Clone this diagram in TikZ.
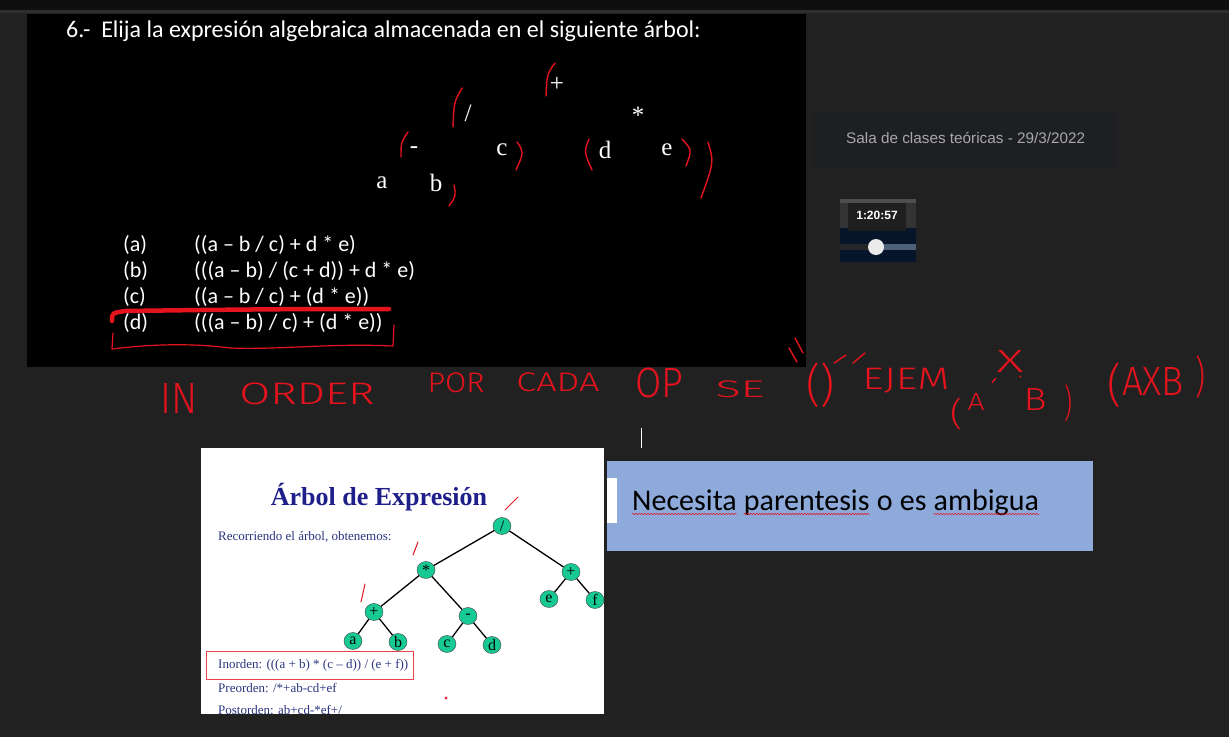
\documentclass[tikz,border=0pt]{standalone}
\usepackage{fontspec}
\usepackage{graphicx}
\setmainfont{Liberation Serif}
\newfontfamily\calfont{Carlito}
\newfontfamily\uifont{Liberation Sans}
\newfontfamily\handfont{Fira Sans Light}
\usetikzlibrary{positioning,shapes.geometric,decorations.pathmorphing}
\definecolor{pagebg}{HTML}{212121}
\definecolor{topbar}{HTML}{0F0F0F}
\definecolor{topline}{HTML}{2E2E2E}
\definecolor{salabg}{HTML}{1D1F22}
\definecolor{salatext}{HTML}{A8A8A8}
\definecolor{penred}{HTML}{E5131D}
\definecolor{titlenavy}{HTML}{1F1F8C}
\definecolor{bodynavy}{HTML}{2B3580}
\definecolor{treegreen}{HTML}{17C993}
\definecolor{boxblue}{HTML}{8EAADB}
\definecolor{thumbnavy}{HTML}{06152A}
\definecolor{thumbbar}{HTML}{4F6178}
\newcommand\fsz[1]{\fontsize{#1}{#1}\selectfont}
\newcommand\hw[3]{\resizebox*{#1pt}{#2pt}{\handfont #3}}
\tikzset{
  quiz/.style={text=white,font=\calfont\fsz{22},anchor=west,inner sep=0},
  oldtree/.style={text=white,font=\fsz{25},inner sep=0},
  pen/.style={draw=penred,line width=1.4pt,line cap=round},
  hand/.style={text=penred,inner sep=0},
  tnode/.style={ellipse,draw=black!75,fill=treegreen,minimum width=18pt,minimum height=17pt,inner sep=0,font=\fsz{16}},
  tedge/.style={line width=1.3pt},
  slidetext/.style={text=bodynavy,font=\fsz{13},anchor=west,inner sep=0},
  noteword/.style={anchor=base west,inner sep=0,font=\calfont\fsz{30}},
  squiggle/.style={draw=penred,line width=0.5pt,decorate,decoration={snake,amplitude=0.7pt,segment length=3pt}}
}
\begin{document}
\begin{tikzpicture}[x=1pt,y=-1pt]
  \useasboundingbox (0,0) rectangle (1229,737);
  \fill[pagebg] (0,0) rectangle (1229,737);
  \fill[topbar] (0,0) rectangle (1229,10);
  \fill[topline] (0,10) rectangle (1229,13);

  % black quiz slide
  \fill[black] (27,14) rectangle (806,367);
  \node[quiz,font=\calfont\fsz{24}] (qtitle) at (66,31)
    {6.-\ \ Elija la expresión algebraica almacenada en el siguiente árbol:};
  \node[oldtree] (oplus) at (557,84) {+};
  \node[oldtree] (odiv) at (468,113) {/};
  \node[oldtree] (omul) at (638,115) {*};
  \node[oldtree] (ominus) at (414,150) {-};
  \node[oldtree] (oc) at (502,150) {c};
  \node[oldtree] (od) at (605,150) {d};
  \node[oldtree] (oe) at (667,150) {e};
  \node[oldtree] (oa) at (382,183) {a};
  \node[oldtree] (ob) at (436,183) {b};
  \node[quiz] (la) at (123,245) {(a)};
  \node[quiz] (lb) at (123,271) {(b)};
  \node[quiz] (lc) at (123,297) {(c)};
  \node[quiz] (ld) at (123,323) {(d)};
  \node[quiz] (ea) at (194,245) {((a – b / c) + d * e)};
  \node[quiz] (eb) at (194,271) {(((a – b) / (c + d)) + d * e)};
  \node[quiz] (ec) at (194,297) {((a – b / c) + (d * e))};
  \node[quiz] (ed) at (194,323) {(((a – b) / c) + (d * e))};

  % pen marks on the quiz slide
  \draw[pen] (555,63) .. controls (547,74) .. (546,96);
  \draw[pen] (462,88) .. controls (454,102) .. (453,127);
  \draw[pen] (408,132) .. controls (401,142) .. (401,157);
  \draw[pen] (454,185) .. controls (456,196) .. (449,206);
  \draw[pen] (517,142) .. controls (524,152) .. (516,170);
  \draw[pen] (589,139) .. controls (584,152) .. (592,170);
  \draw[pen] (682,139) .. controls (692,150) .. (686,166);
  \draw[pen] (708,142) .. controls (714,162) .. (701,198);
  \draw[pen,line width=4.5pt] (112,321) .. controls (112,313) .. (125,311) -- (200,310) .. controls (300,309) .. (389,309);
  \draw[pen,line width=1.2pt] (113,333) -- (112,349) .. controls (160,343) and (200,344) .. (230,348)
    .. controls (280,350) and (330,343) .. (393,346) -- (394,325);
  \draw[pen] (789,348) -- (797,362);
  \draw[pen] (795,338) -- (803,353);

  % side panel
  \fill[salabg] (813,113) rectangle (1117,168);
  \node[anchor=west,inner sep=0,text=salatext,font=\uifont\fsz{15.3}] (sala) at (846,138)
    {Sala de clases teóricas - 29/3/2022};
  \fill[topline!60!gray] (840,199) rectangle (916,203);
  \fill[black!80] (840,203) rectangle (916,228);
  \fill[thumbnavy] (840,228) rectangle (916,262);
  \fill[black!88] (848,203) rectangle (906,231);
  \node[text=white,font=\uifont\bfseries\fsz{12},inner sep=0] (stamp) at (877,215) {1:20:57};
  \fill[black!85] (840,244) rectangle (877,250);
  \fill[thumbbar] (877,244) rectangle (916,250);
  \fill[black!8] (876,247) circle (8);

  % handwriting
  \node[hand] (hin) at (179,398) {\hw{37}{30}{IN}};
  \node[hand] (horder) at (307,394) {\hw{135}{22}{ORDER}};
  \node[hand] (hpor) at (456,383) {\hw{57}{20}{POR}};
  \node[hand] (hcada) at (558,382) {\hw{83}{19}{CADA}};
  \node[hand] (hop) at (659,383) {\hw{48}{30}{OP}};
  \node[hand] (hse) at (740,389) {\hw{49}{17}{SE}};
  \node[hand] (hpar) at (820,385) {\hw{28}{45}{()}};
  \node[hand] (hejem) at (906,381) {\hw{87}{25}{EJEM}};
  \node[hand] (hx) at (1010,361) {\hw{27}{22}{X}};
  \node[hand] (hlp) at (956,414) {\hw{12}{32}{(}};
  \node[hand] (ha) at (976,402) {\hw{17}{17}{A}};
  \node[hand] (hb) at (1035,399) {\hw{23}{22}{B}};
  \node[hand] (hrp) at (1068,403) {\hw{8}{37}{)}};
  \node[hand] (hlp2) at (1114,385) {\hw{14}{45}{(}};
  \node[hand] (haxb) at (1153,381) {\hw{62}{28}{AXB}};
  \node[hand] (hrp2) at (1200,377) {\hw{10}{43}{)}};
  \draw[pen,shorten <=8pt,shorten >=14pt] (hx) -- (ha);
  \draw[pen,shorten <=6pt,shorten >=14pt] (hx) -- (hb);
  \draw[pen] (834,363) -- (846,355);
  \draw[pen] (853,363) -- (865,353);
  \draw[white,line width=1pt] (641,428) -- (641,448);

  % white slide
  \begin{scope}
    \clip (201,448) rectangle (604,714);
    \fill[white] (201,448) rectangle (604,714);
    \node[text=titlenavy,font=\bfseries\fsz{26},inner sep=0] (stitle) at (379,497) {Árbol de Expresión};
    \node[slidetext] (srec) at (218,537) {Recorriendo el árbol, obtenemos:};
    \node[tnode] (ndiv) at (502,526) {/};
    \node[tnode] (nmul) at (426,570) {*};
    \node[tnode] (nplusr) at (571,572) {+};
    \node[tnode] (nplusl) at (374,612) {+};
    \node[tnode] (nminus) at (468,616) {-};
    \node[tnode] (ne) at (549,599) {e};
    \node[tnode] (nf) at (595,600) {f};
    \node[tnode] (na) at (353,641) {a};
    \node[tnode] (nb) at (398,642) {b};
    \node[tnode] (nc) at (447,644) {c};
    \node[tnode] (nd) at (492,645) {d};
    \draw[tedge] (ndiv) -- (nmul);
    \draw[tedge] (ndiv) -- (nplusr);
    \draw[tedge] (nmul) -- (nplusl);
    \draw[tedge] (nmul) -- (nminus);
    \draw[tedge] (nplusr) -- (ne);
    \draw[tedge] (nplusr) -- (nf);
    \draw[tedge] (nplusl) -- (na);
    \draw[tedge] (nplusl) -- (nb);
    \draw[tedge] (nminus) -- (nc);
    \draw[tedge] (nminus) -- (nd);
    \node[slidetext] (sin) at (218,665) {Inorden: (((a + b) * (c – d)) / (e + f))};
    \node[slidetext] (spre) at (218,688) {Preorden: /*+ab-cd+ef};
    \node[slidetext] (spost) at (218,710) {Postorden: ab+cd-*ef+/};
    \node[draw=penred!80,line width=1.1pt,minimum width=207pt,minimum height=28pt,anchor=north west] (inbox) at (206,651) {};
    \draw[pen,line width=1pt] (505,510) -- (518,497);
    \draw[pen,line width=1pt] (413,555) -- (418,542);
    \draw[pen,line width=1pt] (361,602) -- (365,584);
    \fill[penred] (446,698) circle (1.5);
  \end{scope}

  % blue note
  \fill[boxblue] (607,461) rectangle (1093,551);
  \fill[white] (607,478) rectangle (617,523);
  \node[noteword] (wnec) at (632,510) {Necesita};
  \node[noteword] (wpar) at ([xshift=6.8pt]wnec.base east) {parentesis};
  \node[noteword] (wo) at ([xshift=6.8pt]wpar.base east) {o};
  \node[noteword] (wes) at ([xshift=6.8pt]wo.base east) {es};
  \node[noteword] (wamb) at ([xshift=6.8pt]wes.base east) {ambigua};
  \draw[squiggle] ([yshift=-4pt]wnec.base west) -- ([yshift=-4pt]wnec.base east);
  \draw[squiggle] ([yshift=-4pt]wpar.base west) -- ([yshift=-4pt]wpar.base east);
  \draw[squiggle] ([yshift=-4pt]wamb.base west) -- ([yshift=-4pt]wamb.base east);
\end{tikzpicture}
\end{document}
